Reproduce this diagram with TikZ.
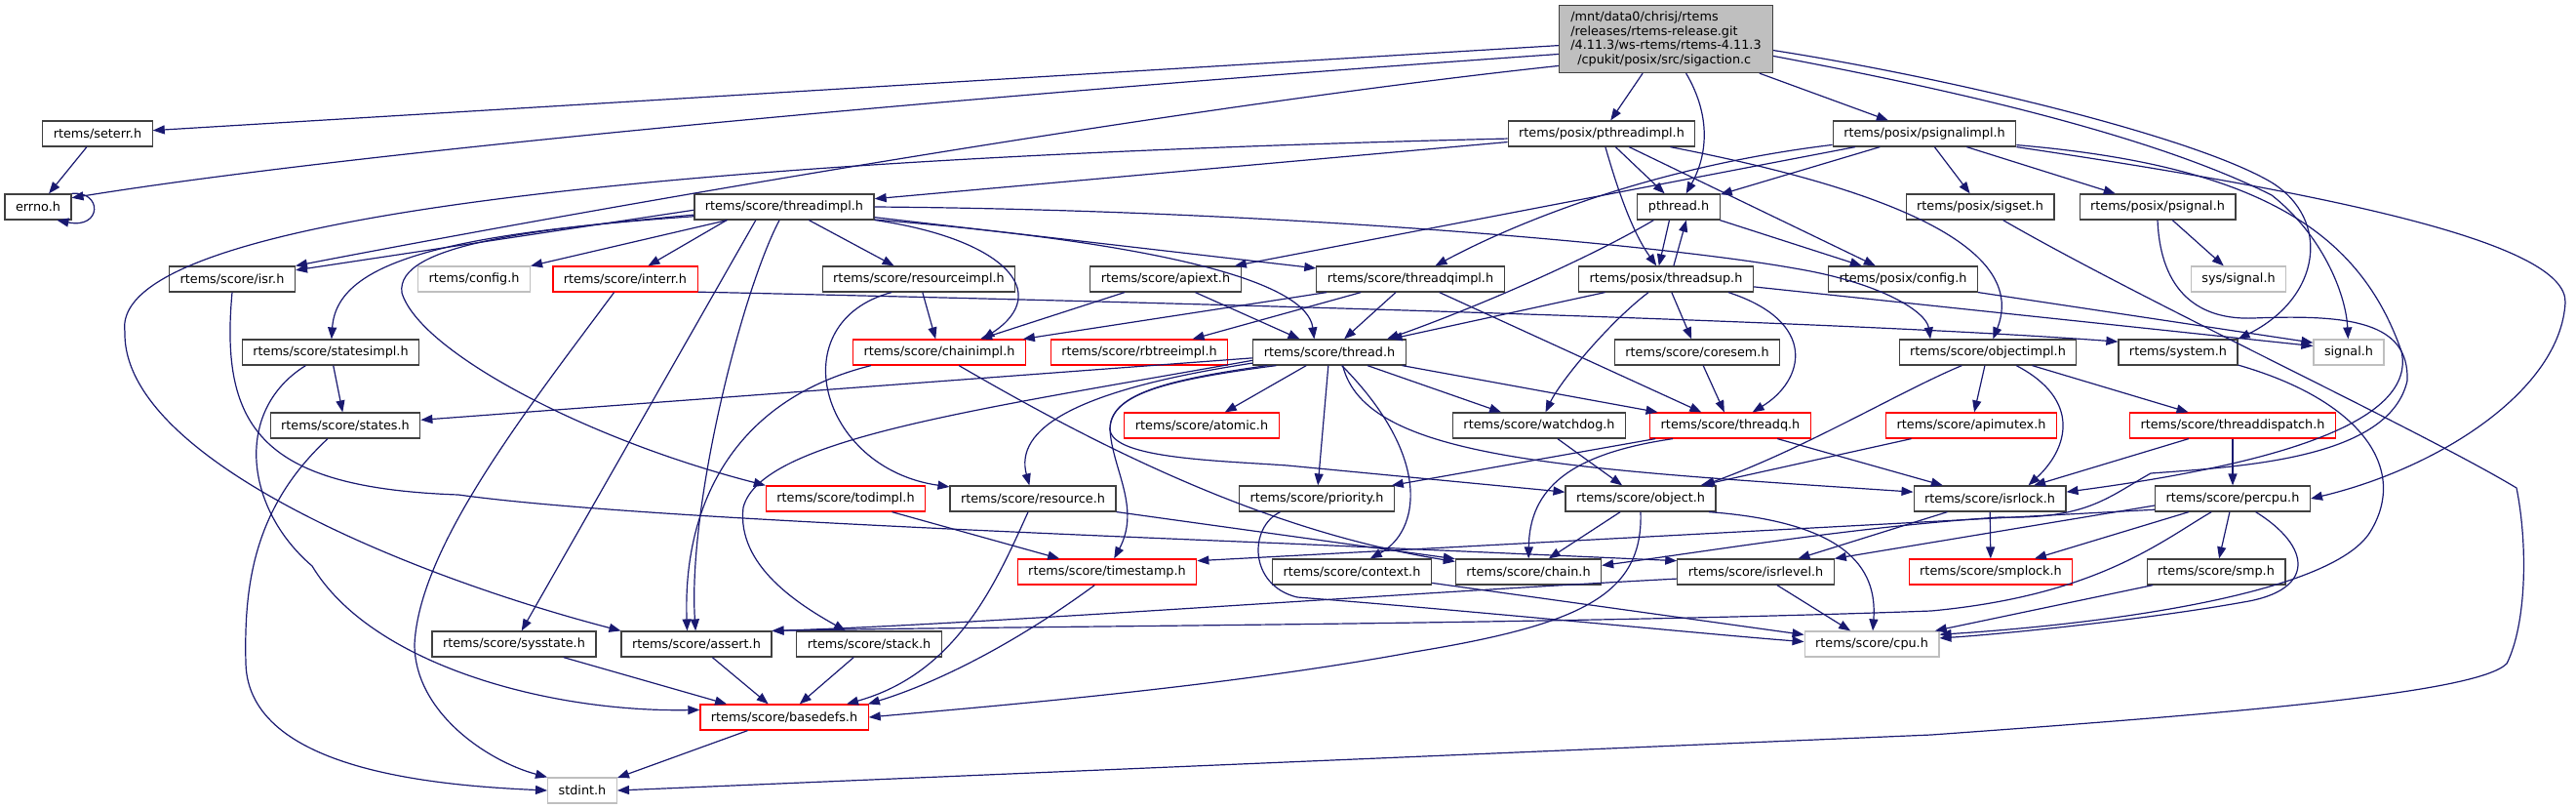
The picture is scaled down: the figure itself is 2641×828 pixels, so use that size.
\documentclass[tikz,border=0pt]{standalone}
\usepackage{fontspec}
\setmainfont{DejaVu Sans}
\usetikzlibrary{arrows.meta}
\definecolor{edgeblue}{HTML}{191970}
\definecolor{boxline}{HTML}{404040}
\definecolor{greyline}{HTML}{BFBFBF}
\definecolor{mainfill}{HTML}{BFBFBF}
\definecolor{truncred}{HTML}{FF0000}

\begin{document}
\begin{tikzpicture}[x=1pt, y=-1pt,
  hdr/.style={draw=boxline, line width=1.2pt, fill=white, minimum height=26pt, inner xsep=11pt, inner ysep=0pt, font=\fontsize{12.8}{15}\selectfont},
  hdrred/.style={hdr, draw=truncred},
  hdrgray/.style={hdr, draw=greyline},
  incl/.style={draw=edgeblue, line width=1.2pt, -{Triangle[length=12pt, width=9pt]}}]
\useasboundingbox (0,0) rectangle (2641,828);

\node [hdr, fill=mainfill, align=left, minimum width=219pt, minimum height=69pt, font=\fontsize{12.8}{14.7}\selectfont] (main) at (1708,40) {/mnt/data0/chrisj/rtems\\/releases/rtems-release.git\\/4.11.3/ws-rtems/rtems-4.11.3\\\hspace*{7pt}/cpukit/posix/src/sigaction.c};
\node [hdr] (seterr) at (100,137) {rtems/seterr.h};
\node [hdr] (errno) at (39,212) {errno.h};
\node [hdr] (pthreadimpl) at (1642,137) {rtems/posix/pthreadimpl.h};
\node [hdr] (psignalimpl) at (1973,137) {rtems/posix/psignalimpl.h};
\node [hdr] (threadimpl) at (804,212) {rtems/score/threadimpl.h};
\node [hdr] (pthread) at (1721,212) {pthread.h};
\node [hdr] (sigset) at (2030,212) {rtems/posix/sigset.h};
\node [hdr] (psignal) at (2212,212) {rtems/posix/psignal.h};
\node [hdr] (isr) at (238,286) {rtems/score/isr.h};
\node [hdrgray] (config) at (486,286) {rtems/config.h};
\node [hdrred] (interr) at (641,286) {rtems/score/interr.h};
\node [hdr] (resourceimpl) at (942,286) {rtems/score/resourceimpl.h};
\node [hdr] (apiext) at (1195,286) {rtems/score/apiext.h};
\node [hdr] (threadqimpl) at (1446,286) {rtems/score/threadqimpl.h};
\node [hdr] (threadsup) at (1708,286) {rtems/posix/threadsup.h};
\node [hdr] (posixconfig) at (1951,286) {rtems/posix/config.h};
\node [hdrgray] (syssignal) at (2295,286) {sys/signal.h};
\node [hdr] (statesimpl) at (339,361) {rtems/score/statesimpl.h};
\node [hdrred] (chainimpl) at (963,361) {rtems/score/chainimpl.h};
\node [hdrred] (rbtreeimpl) at (1168,361) {rtems/score/rbtreeimpl.h};
\node [hdr] (thread) at (1363,361) {rtems/score/thread.h};
\node [hdr] (coresem) at (1740,361) {rtems/score/coresem.h};
\node [hdr] (objectimpl) at (2038,361) {rtems/score/objectimpl.h};
\node [hdr] (system) at (2233,361) {rtems/system.h};
\node [hdrgray] (signal) at (2408,361) {signal.h};
\node [hdr] (states) at (354,436) {rtems/score/states.h};
\node [hdrred] (atomic) at (1232,436) {rtems/score/atomic.h};
\node [hdr] (watchdog) at (1578,436) {rtems/score/watchdog.h};
\node [hdrred] (threadq) at (1774,436) {rtems/score/threadq.h};
\node [hdrred] (apimutex) at (2021,436) {rtems/score/apimutex.h};
\node [hdrred] (threaddispatch) at (2289,436) {rtems/score/threaddispatch.h};
\node [hdrred] (todimpl) at (867,511) {rtems/score/todimpl.h};
\node [hdr] (resource) at (1059,511) {rtems/score/resource.h};
\node [hdr] (priority) at (1350,511) {rtems/score/priority.h};
\node [hdr] (object) at (1682,511) {rtems/score/object.h};
\node [hdr] (isrlock) at (2040,511) {rtems/score/isrlock.h};
\node [hdr] (percpu) at (2289,511) {rtems/score/percpu.h};
\node [hdrred] (timestamp) at (1135,586) {rtems/score/timestamp.h};
\node [hdr] (context) at (1386,586) {rtems/score/context.h};
\node [hdr] (chain) at (1567,586) {rtems/score/chain.h};
\node [hdr] (isrlevel) at (1800,586) {rtems/score/isrlevel.h};
\node [hdrred] (smplock) at (2041,586) {rtems/score/smplock.h};
\node [hdr] (smp) at (2272,586) {rtems/score/smp.h};
\node [hdr] (sysstate) at (527,660) {rtems/score/sysstate.h};
\node [hdr] (assert) at (714,660) {rtems/score/assert.h};
\node [hdr] (stack) at (891,660) {rtems/score/stack.h};
\node [hdrgray] (cpu) at (1919,660) {rtems/score/cpu.h};
\node [hdrred] (basedefs) at (804,735) {rtems/score/basedefs.h};
\node [hdrgray] (stdint) at (597,810) {stdint.h};

\draw [incl] (main) -- (seterr);
\draw [incl] (main.188) .. controls (1100,90) and (400,150) .. (errno.15);
\draw [incl] (main.194) .. controls (1200,110) and (600,215) .. (isr.north east);
\draw [incl] (main) -- (pthreadimpl);
\draw [incl] (main) .. controls (1755,120) and (1750,160) .. (pthread);
\draw [incl] (main) -- (psignalimpl);
\draw [incl] (main.-6) .. controls (2000,80) and (2250,140) .. (2329,187) .. controls (2390,225) and (2380,305) .. (system.north east);
\draw [incl] (main.-9) .. controls (1980,88) and (2200,135) .. (2329,200) .. controls (2380,240) and (2405,300) .. (signal);

\draw [incl] (seterr) -- (errno);
\draw [incl] (errno.north east) .. controls (105,195) and (105,235) .. (errno.-35);

\draw [incl] (pthreadimpl) -- (threadimpl);
\draw [incl] (pthreadimpl.183) .. controls (800,160) and (110,210) .. (128,340) .. controls (125,470) and (420,590) .. (assert.north west);
\draw [incl] (pthreadimpl) -- (pthread);
\draw [incl] (pthreadimpl) .. controls (1660,200) and (1675,240) .. (threadsup);
\draw [incl] (pthreadimpl) -- (posixconfig);
\draw [incl] (pthreadimpl) .. controls (2020,210) and (2070,280) .. (objectimpl);

\draw [incl] (psignalimpl) -- (apiext);
\draw [incl] (psignalimpl) .. controls (1700,170) and (1560,225) .. (threadqimpl);
\draw [incl] (psignalimpl) -- (pthread);
\draw [incl] (psignalimpl) -- (sigset);
\draw [incl] (psignalimpl) -- (psignal);
\draw [incl] (psignalimpl.south east) .. controls (2400,200) and (2632,250) .. (2630,310) .. controls (2625,400) and (2500,480) .. (percpu.east);
\draw [incl] (psignalimpl.-7) .. controls (2320,170) and (2420,240) .. (2462,360) .. controls (2480,440) and (2300,480) .. (isrlock.5);

\draw [incl] (psignal) -- (syssignal);
\draw [incl] (psignal.south) .. controls (2215,300) and (2255,328) .. (2310,326) .. controls (2410,322) and (2470,330) .. (2468,390) .. controls (2450,470) and (2300,478) .. (2205,485) .. controls (2160,510) and (2140,532) .. (2050,530) .. controls (1900,540) and (1750,565) .. (chain.5);
\draw [incl] (sigset) .. controls (2200,310) and (2480,440) .. (2580,500) .. controls (2592,560) and (2590,640) .. (2570,680) .. controls (2540,710) and (2300,730) .. (1980,753) -- (stdint.east);
\draw [incl] (posixconfig.-10) -- (signal.165);

\draw [incl] (threadimpl) .. controls (1030,245) and (1080,300) .. (chainimpl.17);
\draw [incl] (threadimpl.-8) .. controls (1200,250) and (1340,290) .. (thread.139);
\draw [incl] (threadimpl.east) .. controls (1300,215) and (1700,250) .. (1840,275) .. controls (1930,290) and (1975,320) .. (objectimpl.167);
\draw [incl] (threadimpl) -- (threadqimpl);
\draw [incl] (threadimpl) -- (resourceimpl);
\draw [incl] (threadimpl.205) -- (sysstate);
\draw [incl] (threadimpl.250) .. controls (760,300) and (705,520) .. (assert);
\draw [incl] (threadimpl.185) .. controls (550,235) and (405,250) .. (412,300) .. controls (430,360) and (600,450) .. (todimpl.north west);
\draw [incl] (threadimpl.193) -- (interr);
\draw [incl] (threadimpl.182) -- (isr.8);
\draw [incl] (threadimpl.186) .. controls (450,240) and (345,270) .. (statesimpl);
\draw [incl] (threadimpl) -- (config);

\draw [incl] (pthread.235) -- (threadsup.118);
\draw [incl] (threadsup.60) -- (pthread.-60);
\draw [incl] (pthread) -- (posixconfig);
\draw [incl] (pthread.208) .. controls (1620,270) and (1500,320) .. (thread.13);

\draw [incl] (threadsup) -- (thread);
\draw [incl] (threadsup) .. controls (1650,330) and (1600,390) .. (watchdog);
\draw [incl] (threadsup) -- (coresem);
\draw [incl] (threadsup.-12) .. controls (1865,330) and (1850,390) .. (threadq.31);
\draw [incl] (threadsup.-5) -- (signal.170);

\draw [incl] (threadqimpl.189) -- (chainimpl.9);
\draw [incl] (threadqimpl.195) -- (rbtreeimpl.14);
\draw [incl] (threadqimpl) -- (thread);
\draw [incl] (threadqimpl) -- (threadq);

\draw [incl] (apiext) -- (chainimpl);
\draw [incl] (apiext) -- (thread);
\draw [incl] (resourceimpl) -- (chainimpl);
\draw [incl] (resourceimpl.206) .. controls (800,330) and (840,480) .. (resource);

\draw [incl] (interr.-10) .. controls (1300,312) and (1900,330) .. (system.170);
\draw [incl] (interr.230) .. controls (540,420) and (430,560) .. (425,660) .. controls (425,730) and (500,780) .. (stdint.north west);
\draw [incl] (isr.south) .. controls (225,440) and (270,500) .. (470,507) .. controls (600,525) and (900,540) .. (1320,557) -- (isrlevel.172);

\draw [incl] (statesimpl) -- (states);
\draw [incl] (statesimpl.208) .. controls (240,420) and (250,520) .. (320,580) .. controls (380,680) and (560,730) .. (basedefs.175);
\draw [incl] (states.217) .. controls (260,520) and (250,600) .. (252,680) .. controls (255,790) and (450,805) .. (stdint.west);

\draw [incl] (chainimpl.191) .. controls (750,410) and (700,520) .. (assert.125);
\draw [incl] (chainimpl.-34) .. controls (1130,460) and (1300,545) .. (chain.172);

\draw [incl] (thread) -- (states);
\draw [incl] (thread) -- (atomic);
\draw [incl] (thread) -- (watchdog);
\draw [incl] (thread) -- (threadq);
\draw [incl] (thread) -- (priority);
\draw [incl] (thread.-47) .. controls (1470,470) and (1455,545) .. (context.36);
\draw [incl] (thread.-45) .. controls (1400,470) and (1600,480) .. (isrlock.175);
\draw [incl] (thread.192) .. controls (1190,390) and (1138,405) .. (1138,440) .. controls (1140,470) and (1250,472) .. (1320,477) -- (object.175);
\draw [incl] (thread.194) .. controls (1190,390) and (1138,405) .. (1138,440) .. controls (1140,480) and (1170,520) .. (timestamp);
\draw [incl] (thread.188) .. controls (1100,400) and (1040,440) .. (resource);
\draw [incl] (thread.186) .. controls (1000,420) and (780,450) .. (762,520) .. controls (755,580) and (820,620) .. (stack);

\draw [incl] (objectimpl.207) .. controls (1950,400) and (1850,460) .. (object.12);
\draw [incl] (objectimpl) -- (apimutex);
\draw [incl] (objectimpl.-25) .. controls (2135,410) and (2120,460) .. (isrlock.19);
\draw [incl] (objectimpl) -- (threaddispatch);
\draw [incl] (threaddispatch) -- (isrlock);
\draw [incl] (threaddispatch) -- (percpu);
\draw [incl] (apimutex) -- (object);
\draw [incl] (watchdog) -- (object);
\draw [incl] (coresem) -- (threadq);

\draw [incl] (threadq) -- (priority);
\draw [incl] (threadq.193) .. controls (1610,465) and (1568,500) .. (chain);
\draw [incl] (threadq) -- (isrlock);

\draw [incl] (object) -- (chain);
\draw [incl] (object.-11) .. controls (1890,535) and (1925,580) .. (cpu);
\draw [incl] (object.south) .. controls (1685,610) and (1620,640) .. (1450,668) .. controls (1250,705) and (1000,725) .. (basedefs.east);

\draw [incl] (priority.200) .. controls (1280,540) and (1280,600) .. (1330,612) .. controls (1500,625) and (1750,650) .. (cpu.178);
\draw [incl] (context) -- (cpu);
\draw [incl] (isrlevel) -- (cpu);
\draw [incl] (isrlevel.185) .. controls (1400,610) and (1000,640) .. (assert.north east);
\draw [incl] (smp) -- (cpu);
\draw [incl] (system.-12) .. controls (2420,410) and (2470,480) .. (2430,545) .. controls (2390,610) and (2150,640) .. (cpu.8);

\draw [incl] (percpu.185) -- (isrlevel.north east);
\draw [incl] (percpu.188) -- (timestamp.7);
\draw [incl] (percpu.212) .. controls (2215,555) and (2150,610) .. (1980,626) .. controls (1600,640) and (1000,642) .. (assert.north east);
\draw [incl] (percpu) -- (smplock);
\draw [incl] (percpu) -- (smp);
\draw [incl] (percpu.-30) .. controls (2370,560) and (2375,605) .. (2300,617) .. controls (2200,635) and (2050,650) .. (cpu.5);
\draw [incl] (isrlock) -- (isrlevel);
\draw [incl] (isrlock) -- (smplock);

\draw [incl] (todimpl.-16) -- (timestamp);
\draw [incl] (resource.-9) -- (chain.170);
\draw [incl] (resource.250) .. controls (1020,600) and (980,690) .. (basedefs.12);
\draw [incl] (timestamp.227) .. controls (1040,660) and (960,700) .. (basedefs.9);
\draw [incl] (assert) -- (basedefs);
\draw [incl] (stack) -- (basedefs);
\draw [incl] (sysstate.-15) -- (basedefs.167);
\draw [incl] (basedefs) -- (stdint);
\end{tikzpicture}
\end{document}
